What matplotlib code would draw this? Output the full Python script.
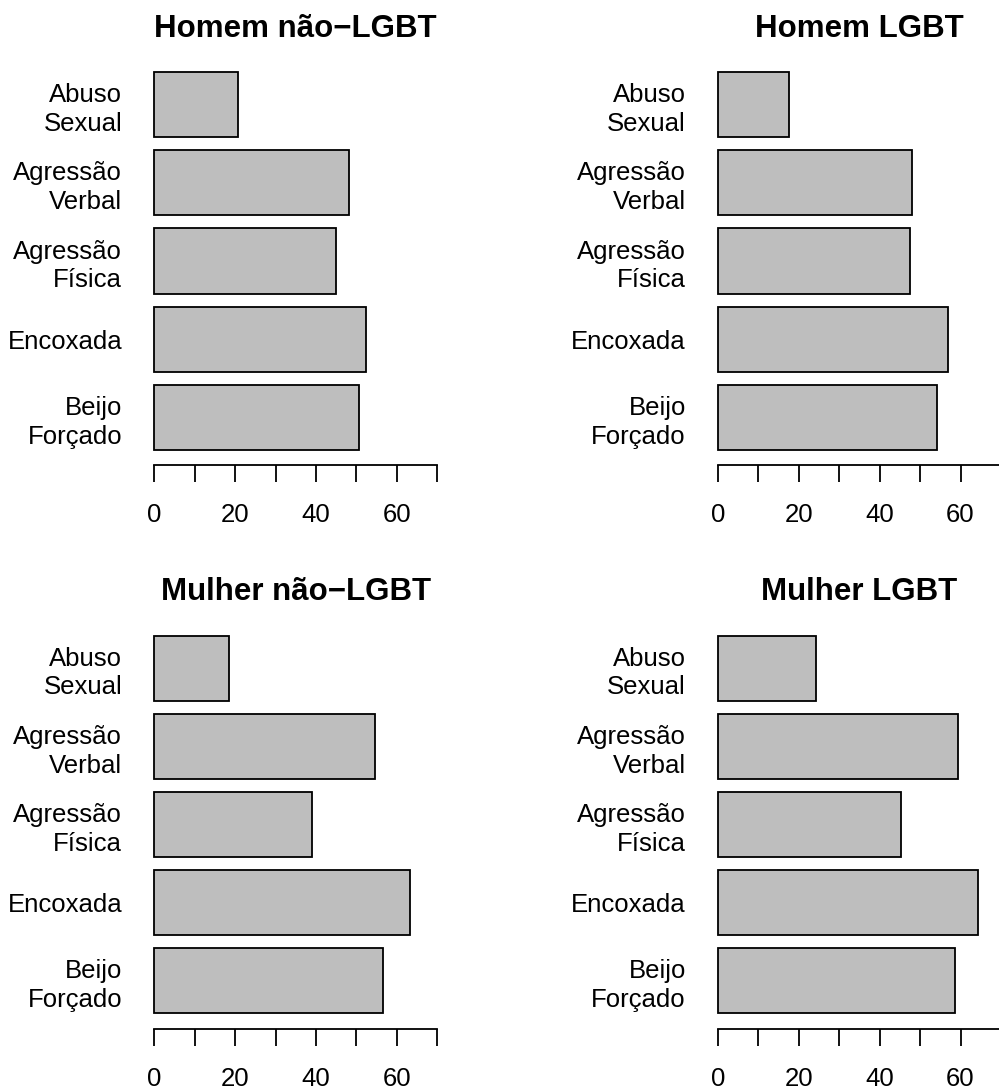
import matplotlib
matplotlib.use("Agg")
import matplotlib.pyplot as plt

plt.rcParams['font.family'] = ['Liberation Sans', 'DejaVu Sans']

categories = ["Beijo\nForçado", "Encoxada", "Agressão\nFísica", "Agressão\nVerbal", "Abuso\nSexual"]
titles = ["Homem não\u2212LGBT", "Homem LGBT", "Mulher não\u2212LGBT", "Mulher LGBT"]
homem_nao_lgbt = [50.6, 52.4, 44.9, 48.2, 20.8]
homem_lgbt = [54.2, 56.9, 47.5, 47.9, 17.6]
mulher_nao_lgbt = [56.5, 63.2, 38.9, 54.6, 18.4]
mulher_lgbt = [58.7, 64.3, 45.3, 59.3, 24.3]
series = [homem_nao_lgbt, homem_lgbt, mulher_nao_lgbt, mulher_lgbt]
xticks = [0, 10, 20, 30, 40, 50, 60, 70]
xticklabels = ["0", "", "20", "", "40", "", "60", ""]

W, H = 999, 1090
fig = plt.figure(figsize=(W / 100, H / 100), dpi=100)

# axes rectangles in pixels: (left, top, width, height)
ax_w = 305.6
ax_h = 408.0
lefts = [143.0, 706.7]
tops = [57.0, 620.5]

bar_h = 1.0
space = 0.2
ypos = [space + bar_h / 2 + i * (bar_h + space) for i in range(len(categories))]

for k, vals in enumerate(series):
    r, c = divmod(k, 2)
    left = lefts[c]
    top = tops[r]
    ax = fig.add_axes([left / W, 1 - (top + ax_h) / H, ax_w / W, ax_h / H])
    ax.barh(ypos, vals, height=bar_h, color="#BEBEBE", edgecolor="black", linewidth=1.3)
    ax.set_xlim(-2.8, 72.8)
    ax.set_ylim(-0.032, 6.232)
    for s in ["left", "top", "right"]:
        ax.spines[s].set_visible(False)
    ax.spines["bottom"].set_bounds(0, 70)
    ax.spines["bottom"].set_linewidth(1.3)
    ax.set_xticks(xticks)
    ax.set_xticklabels(xticklabels, fontsize=18.5)
    ax.tick_params(axis="x", length=12, width=1.3, pad=15.5)
    ax.set_yticks(ypos)
    ax.set_yticklabels(categories, fontsize=18.5, linespacing=1.25)
    ax.tick_params(axis="y", length=0, pad=15.0)
    ax.text(0.5, 1 + 20 / ax_h, titles[k], transform=ax.transAxes, ha="center",
            va="baseline", fontsize=22.5, fontweight="bold")

fig.savefig("out.png", dpi=100)
